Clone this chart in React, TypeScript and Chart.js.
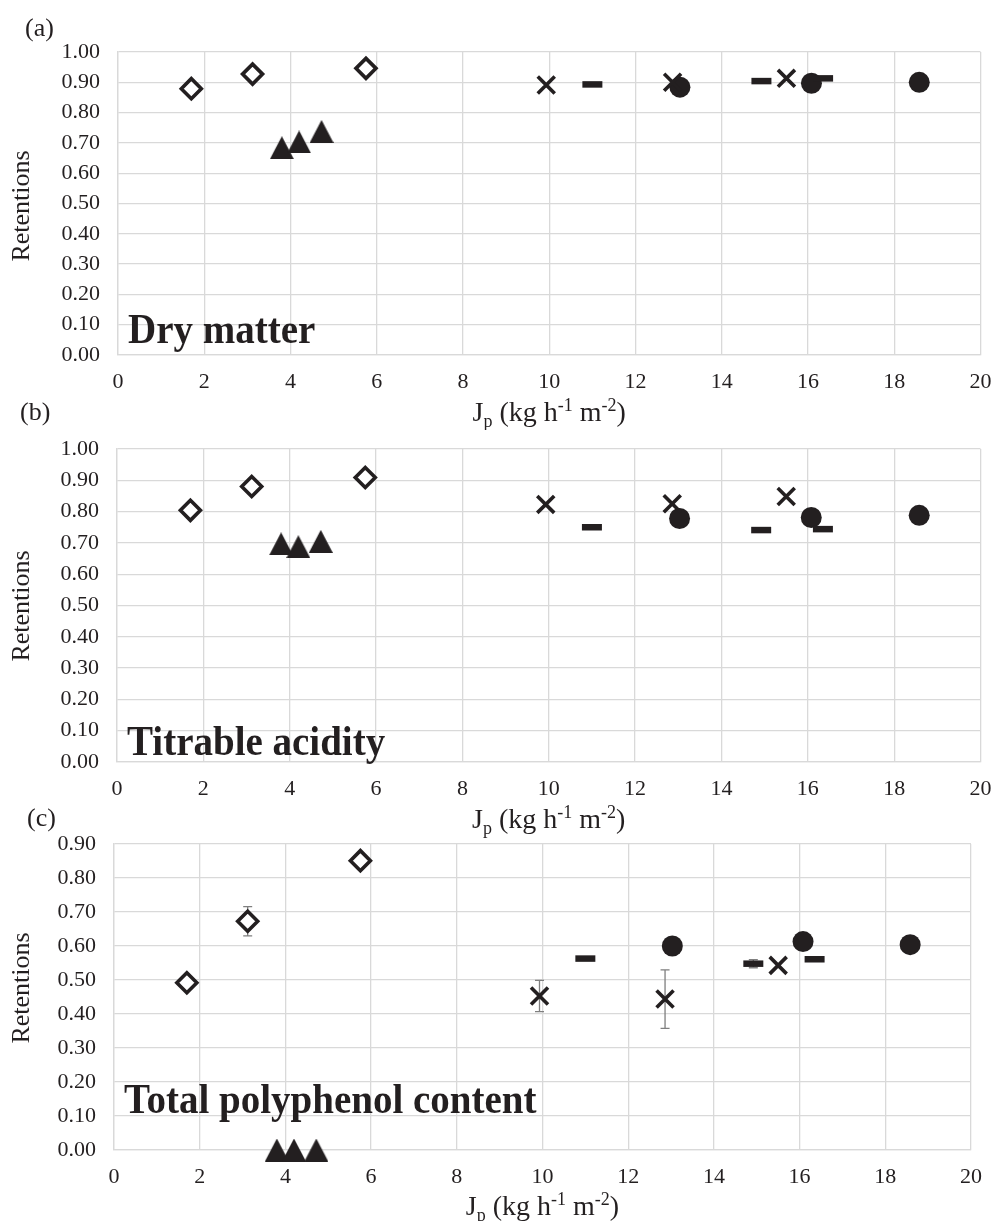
import React, { useEffect, useRef } from 'react';
import { Chart, registerables } from 'chart.js';

Chart.register(...registerables);

// ---------- data ----------
// Permeate flux Jp (kg h-1 m-2) of the five series (same runs in every panel)
const jpDiamond = [1.7, 3.12, 5.75];
const jpTriangle = [3.8, 4.2, 4.72];
const jpCross = [9.93, 12.86, 15.5];
const jpDash = [11.0, 14.92, 16.35];
const jpCircle = [13.03, 16.08, 18.58];

// (a) Dry matter retentions
const dmDiamond = [0.879, 0.927, 0.946];
const dmTriangle = [0.684, 0.703, 0.738];
const dmCross = [0.891, 0.9, 0.913];
const dmDash = [0.893, 0.904, 0.913];
const dmCircle = [0.884, 0.897, 0.9];

// (b) Titrable acidity retentions
const taDiamond = [0.804, 0.88, 0.909];
const taTriangle = [0.697, 0.688, 0.705];
const taCross = [0.823, 0.825, 0.848];
const taDash = [0.75, 0.741, 0.744];
const taCircle = [0.778, 0.781, 0.788];

// (c) Total polyphenol content retentions
const tpDiamond = [0.492, 0.673, 0.851];
const tpTriangle = [0, 0, 0];
const tpCross = [0.453, 0.444, 0.543];
const tpDash = [0.563, 0.548, 0.561];
const tpCircle = [0.6, 0.613, 0.604];
// error bars (±) in panel (c)
const tpDiamondErr = [0, 0.043, 0];
const tpCrossErr = [0.046, 0.086, 0];
const tpDashErr = [0, 0.012, 0];

// axes
const xMin = 0;
const xMax = 20;
const xStep = 2;
const yStep = 0.1;
const yMaxA = 1.0;
const yMaxB = 1.0;
const yMaxC = 0.9;

const panelLetters = ['(a)', '(b)', '(c)'];
const panelLabels = ['Dry matter', 'Titrable acidity', 'Total polyphenol content'];
const yTitle = 'Retentions';

// ---------- styling ----------
const W = 997;
const INK = '#231f20';
const GRID = '#d9d9d9';
const SERIF = '"Liberation Serif", "Times New Roman", serif';

type Series = { y: number[]; err?: number[] };
type PanelDef = {
  canvasTop: number;
  height: number;
  left: number;
  right: number;
  top: number;
  bottom: number;
  yMax: number;
  letter: string;
  letterX: number;
  letterBase: number;
  label: string;
  labelX: number;
  labelBase: number;
  titleBase: number;
  yTitleCenter: number;
  diamond: Series;
  triangle: Series;
  cross: Series;
  dash: Series;
  circle: Series;
};

const panels: PanelDef[] = [
  {
    canvasTop: 0, height: 430, left: 118, right: 985, top: 52, bottom: 355, yMax: yMaxA,
    letter: panelLetters[0], letterX: 25, letterBase: 36,
    label: panelLabels[0], labelX: 128, labelBase: 343,
    titleBase: 421, yTitleCenter: 206,
    diamond: { y: dmDiamond }, triangle: { y: dmTriangle }, cross: { y: dmCross },
    dash: { y: dmDash }, circle: { y: dmCircle },
  },
  {
    canvasTop: 395, height: 445, left: 117, right: 985, top: 449, bottom: 762, yMax: yMaxB,
    letter: panelLetters[1], letterX: 20, letterBase: 420,
    label: panelLabels[1], labelX: 127, labelBase: 755,
    titleBase: 828, yTitleCenter: 606,
    diamond: { y: taDiamond }, triangle: { y: taTriangle }, cross: { y: taCross },
    dash: { y: taDash }, circle: { y: taCircle },
  },
  {
    canvasTop: 800, height: 421, left: 114, right: 971, top: 844, bottom: 1150, yMax: yMaxC,
    letter: panelLetters[2], letterX: 27, letterBase: 826,
    label: panelLabels[2], labelX: 124, labelBase: 1113,
    titleBase: 1215, yTitleCenter: 988,
    diamond: { y: tpDiamond, err: tpDiamondErr }, triangle: { y: tpTriangle },
    cross: { y: tpCross, err: tpCrossErr }, dash: { y: tpDash, err: tpDashErr },
    circle: { y: tpCircle },
  },
];

function makeTriangle(w: number, h: number, color: string) {
  const c = document.createElement('canvas');
  c.width = w;
  c.height = h;
  const g = c.getContext('2d')!;
  g.fillStyle = color;
  g.beginPath();
  g.moveTo(w / 2, 0);
  g.lineTo(w, h);
  g.lineTo(0, h);
  g.closePath();
  g.fill();
  return c;
}

function drawRichTitle(ctx: CanvasRenderingContext2D, cx: number, base: number) {
  const F = 28;
  const S = 18;
  const segs: { t: string; k: 'n' | 'sub' | 'sup' }[] = [
    { t: 'J', k: 'n' },
    { t: 'p', k: 'sub' },
    { t: ' (kg h', k: 'n' },
    { t: '-1', k: 'sup' },
    { t: ' m', k: 'n' },
    { t: '-2', k: 'sup' },
    { t: ')', k: 'n' },
  ];
  const fontOf = (k: string) => (k === 'n' ? `${F}px ${SERIF}` : `${S}px ${SERIF}`);
  let total = 0;
  const widths = segs.map((s) => {
    ctx.font = fontOf(s.k);
    const w = ctx.measureText(s.t).width;
    total += w;
    return w;
  });
  let x = cx - total / 2;
  ctx.textAlign = 'left';
  ctx.textBaseline = 'alphabetic';
  segs.forEach((s, i) => {
    ctx.font = fontOf(s.k);
    const dy = s.k === 'sub' ? 6 : s.k === 'sup' ? -10 : 0;
    ctx.fillText(s.t, x, base + dy);
    x += widths[i];
  });
}

function Panel({ p }: { p: PanelDef }) {
  const ref = useRef<HTMLCanvasElement>(null);
  useEffect(() => {
    const tri = makeTriangle(24, 23, INK);
    const pts = (xs: number[], ys: number[]) => xs.map((x, i) => ({ x, y: ys[i] }));
    const datasets: any[] = [
      {
        label: 'diamond', data: pts(jpDiamond, p.diamond.y), err: p.diamond.err,
        pointStyle: 'rectRot', pointRadius: 10, pointBorderWidth: 3.6,
        pointBackgroundColor: '#ffffff', pointBorderColor: INK, clip: false,
      },
      {
        label: 'triangle', data: pts(jpTriangle, p.triangle.y), err: p.triangle.err,
        pointStyle: tri, pointRadius: 12, pointBorderWidth: 0,
        pointBackgroundColor: INK, pointBorderColor: INK, clip: false,
      },
      {
        label: 'cross', data: pts(jpCross, p.cross.y), err: p.cross.err,
        pointStyle: 'crossRot', pointRadius: 12, pointBorderWidth: 3.6,
        pointBackgroundColor: INK, pointBorderColor: INK, clip: false,
      },
      {
        label: 'dash', data: pts(jpDash, p.dash.y), err: p.dash.err,
        pointStyle: 'line', pointRadius: 10, pointBorderWidth: 6.5,
        pointBackgroundColor: INK, pointBorderColor: INK, clip: false,
      },
      {
        label: 'circle', data: pts(jpCircle, p.circle.y), err: p.circle.err,
        pointStyle: 'circle', pointRadius: 10.5, pointBorderWidth: 0,
        pointBackgroundColor: INK, pointBorderColor: INK, clip: false,
      },
    ];

    const errorBars = {
      id: 'errorBars',
      beforeDatasetsDraw(chart: any) {
        const ctx = chart.ctx as CanvasRenderingContext2D;
        const xs = chart.scales.x;
        const ys = chart.scales.y;
        ctx.save();
        ctx.strokeStyle = '#7f7f7f';
        ctx.lineWidth = 1.3;
        chart.data.datasets.forEach((ds: any) => {
          if (!ds.err) return;
          ds.data.forEach((pt: any, i: number) => {
            const e = ds.err[i];
            if (!e) return;
            const px = xs.getPixelForValue(pt.x);
            const y1 = ys.getPixelForValue(pt.y + e);
            const y2 = ys.getPixelForValue(pt.y - e);
            ctx.beginPath();
            ctx.moveTo(px, y1);
            ctx.lineTo(px, y2);
            ctx.moveTo(px - 4.5, y1);
            ctx.lineTo(px + 4.5, y1);
            ctx.moveTo(px - 4.5, y2);
            ctx.lineTo(px + 4.5, y2);
            ctx.stroke();
          });
        });
        ctx.restore();
      },
    };

    const texts = {
      id: 'panelTexts',
      afterDraw(chart: any) {
        const ctx = chart.ctx as CanvasRenderingContext2D;
        const off = p.canvasTop;
        ctx.save();
        ctx.fillStyle = INK;
        ctx.textAlign = 'left';
        ctx.textBaseline = 'alphabetic';
        ctx.font = `26px ${SERIF}`;
        ctx.fillText(p.letter, p.letterX, p.letterBase - off);
        // big bold panel label, slightly taller like the original
        ctx.save();
        ctx.translate(p.labelX, p.labelBase - off);
        ctx.scale(1, 1.1);
        ctx.font = `bold 39px ${SERIF}`;
        ctx.fillText(p.label, 0, 0);
        ctx.restore();
        const { left, right } = chart.chartArea;
        drawRichTitle(ctx, (left + right) / 2, p.titleBase - off);
        ctx.save();
        ctx.translate(22, p.yTitleCenter - off);
        ctx.rotate(-Math.PI / 2);
        ctx.textAlign = 'center';
        ctx.textBaseline = 'middle';
        ctx.font = `26px ${SERIF}`;
        ctx.fillText(yTitle, 0, 0);
        ctx.restore();
        ctx.restore();
      },
    };

    const tickFont = { family: SERIF, size: 22 };
    const xAxisHeight = p.height - (p.bottom - p.canvasTop);

    const chart = new Chart(ref.current!, {
      type: 'scatter',
      data: { datasets },
      options: {
        responsive: false,
        maintainAspectRatio: false,
        animation: false,
        events: [],
        layout: { padding: { left: 0, right: W - p.right, top: p.top - p.canvasTop, bottom: 0 } },
        plugins: { legend: { display: false }, tooltip: { enabled: false }, title: { display: false } },
        scales: {
          x: {
            type: 'linear',
            min: xMin,
            max: xMax,
            ticks: {
              stepSize: xStep,
              font: tickFont,
              color: INK,
              padding: 14,
              maxRotation: 0,
              autoSkip: false,
              callback: (v: any) => String(v),
            },
            grid: { color: GRID, lineWidth: 1.3, drawTicks: false },
            border: { color: GRID, width: 1.3 },
            afterFit: (s: any) => {
              s.height = xAxisHeight;
              s.paddingLeft = 0;
              s.paddingRight = 0;
            },
          },
          y: {
            type: 'linear',
            min: 0,
            max: p.yMax,
            ticks: {
              stepSize: yStep,
              font: tickFont,
              color: INK,
              padding: 18,
              autoSkip: false,
              callback: (v: any) => Number(v).toFixed(2),
            },
            grid: { color: GRID, lineWidth: 1.3, drawTicks: false },
            border: { color: GRID, width: 1.3 },
            afterFit: (s: any) => {
              s.width = p.left;
              s.paddingTop = 0;
              s.paddingBottom = 0;
            },
          },
        },
      } as any,
      plugins: [errorBars, texts],
    });
    return () => chart.destroy();
  }, []);
  return (
    <canvas
      ref={ref}
      width={W}
      height={p.height}
      style={{ position: 'absolute', left: 0, top: p.canvasTop, width: W, height: p.height }}
    />
  );
}

export default function App() {
  return (
    <div style={{ position: 'absolute', left: 0, top: 0, width: W, height: 1221, background: '#ffffff', overflow: 'hidden' }}>
      {panels.map((p, i) => (
        <Panel key={i} p={p} />
      ))}
    </div>
  );
}
